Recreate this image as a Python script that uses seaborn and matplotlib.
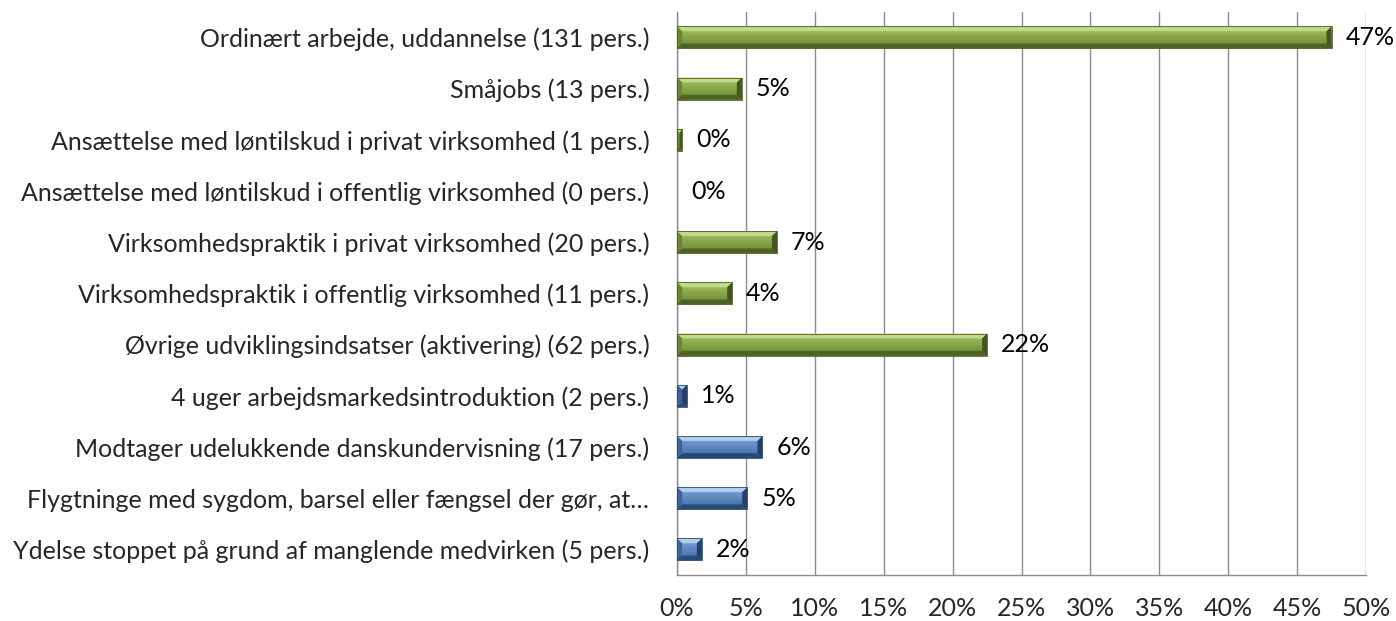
import matplotlib
matplotlib.use("Agg")
import matplotlib.pyplot as plt
import seaborn as sns
import pandas as pd
import numpy as np
from matplotlib.patches import Polygon
from matplotlib.colors import to_rgb
from matplotlib.ticker import MultipleLocator, FuncFormatter

categories = [
    "Ordinært arbejde, uddannelse (131 pers.)",
    "Småjobs (13 pers.)",
    "Ansættelse med løntilskud i privat virksomhed (1 pers.)",
    "Ansættelse med løntilskud i offentlig virksomhed (0 pers.)",
    "Virksomhedspraktik i privat virksomhed (20 pers.)",
    "Virksomhedspraktik i offentlig virksomhed (11 pers.)",
    "Øvrige udviklingsindsatser (aktivering) (62 pers.)",
    "4 uger arbejdsmarkedsintroduktion (2 pers.)",
    "Modtager udelukkende danskundervisning (17 pers.)",
    "Flygtninge med sygdom, barsel eller fængsel der gør, at…",
    "Ydelse stoppet på grund af manglende medvirken (5 pers.)",
]
values = [47.5, 4.7, 0.36, 0.0, 7.25, 4.0, 22.5, 0.72, 6.2, 5.1, 1.8]
labels = ["47%", "5%", "0%", "0%", "7%", "4%", "22%", "1%", "6%", "5%", "2%"]
groups = ["g"] * 7 + ["b"] * 4

palette = {"g": "#7f9f3f", "b": "#4f81bd"}
shade = {
    "g": dict(top="#c0da88", up="#a3c15e", low="#6c8733", bot="#4e6224",
              left="#6a8631", right="#435520", edge="#4a5d22"),
    "b": dict(top="#b3cdec", up="#79a3d8", low="#3f6ba6", bot="#2b4a73",
              left="#3d6399", right="#24406a", edge="#2a4a70"),
}

df = pd.DataFrame({"cat": categories, "val": values, "grp": groups})

sns.set_style("white")
plt.rcParams["font.family"] = ["Lato", "DejaVu Sans"]

FS = 18

fig = plt.figure(figsize=(13.96, 6.21), dpi=100)
ax = fig.add_axes([0.485, 0.074, 0.4935, 0.907])

sns.barplot(data=df, y="cat", x="val", hue="grp", palette=palette,
            dodge=False, width=0.43, legend=False, ax=ax, saturation=1,
            edgecolor="none", linewidth=0, zorder=3)

px_x = 50.0 / (0.4935 * 1396)
for p in list(ax.patches):
    x0, y0 = p.get_x(), p.get_y()
    w, h = p.get_width(), p.get_height()
    if w <= 0:
        continue
    fc = p.get_facecolor()
    key = "g" if fc[1] > fc[2] else "b"
    S = shade[key]
    bx = min(5 * px_x, w / 2)
    x1 = x0 + w
    top, bot = min(y0, y0 + h), max(y0, y0 + h)
    it, ib = top + h * 0.22, bot - h * 0.22
    ix0, ix1 = x0 + bx, x1 - bx
    # center gradient strips
    n = 10
    c_up, c_low = np.array(to_rgb(S["up"])), np.array(to_rgb(S["low"]))
    for k in range(n):
        ya = top + (bot - top) * k / n
        yb = top + (bot - top) * (k + 1) / n
        t = k / (n - 1)
        c = c_up * (1 - t) + c_low * t
        ax.add_patch(Polygon([(x0, ya), (x1, ya), (x1, yb), (x0, yb)], closed=True,
                             facecolor=c, edgecolor="none", zorder=3.5))
    polys = [
        ([(x0, top), (x1, top), (ix1, it), (ix0, it)], S["top"]),
        ([(x0, bot), (x1, bot), (ix1, ib), (ix0, ib)], S["bot"]),
        ([(x0, top), (ix0, it), (ix0, ib), (x0, bot)], S["left"]),
        ([(x1, top), (ix1, it), (ix1, ib), (x1, bot)], S["right"]),
    ]
    for pts, c in polys:
        ax.add_patch(Polygon(pts, closed=True, facecolor=c, edgecolor="none",
                             zorder=4))
    ax.add_patch(Polygon([(x0, top), (x1, top), (x1, bot), (x0, bot)], closed=True,
                         facecolor="none", edgecolor=S["edge"], linewidth=0.6, zorder=5))

for i, (v, lab) in enumerate(zip(values, labels)):
    ax.annotate(lab, xy=(v, i), xytext=(10, 0), textcoords="offset points",
                ha="left", va="center", fontsize=FS, color="black", zorder=6)

ax.set_xlim(0, 50)
ax.set_ylim(10.5, -0.5)
ax.xaxis.set_major_locator(MultipleLocator(5))
ax.xaxis.set_major_formatter(FuncFormatter(lambda x, _: f"{int(round(x))}%"))
ax.set_xlabel("")
ax.set_ylabel("")

ax.grid(axis="x", color="#8c8c8c", linewidth=1.0, zorder=0)
ax.set_axisbelow(True)
for s in ["top", "right"]:
    ax.spines[s].set_visible(False)
for s in ["left", "bottom"]:
    ax.spines[s].set_color("#8c8c8c")
    ax.spines[s].set_linewidth(1.0)

ax.set_yticks(range(len(categories)))
ax.set_yticklabels(categories)
ax.tick_params(axis="y", which="major", length=0, pad=20, labelsize=FS)
ax.set_yticks(np.arange(-0.5, 11, 1.0), minor=True)
ax.tick_params(axis="y", which="minor", length=5, color="#8c8c8c", width=1)
ax.tick_params(axis="x", which="major", length=5, color="#8c8c8c", width=1,
               pad=11, labelsize=FS, direction="out")

fig.savefig("out.png", dpi=100)
